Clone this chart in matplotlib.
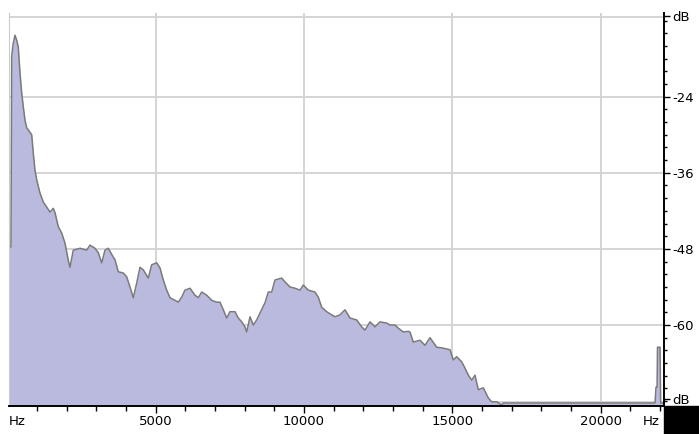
import matplotlib.pyplot as plt
from matplotlib.patches import Rectangle
from matplotlib.ticker import MultipleLocator

# spectrum (Hz, dB)
freq_hz = [60, 120, 145, 189, 256, 313, 367, 425, 482, 536, 593, 651, 762, 819, 873, 930,
           988, 1099, 1210, 1325, 1436, 1547, 1605, 1716, 1830, 1942, 2053, 2110, 2221,
           2447, 2673, 2784, 2953, 3064, 3179, 3290, 3401, 3570, 3627, 3738, 3907, 4021,
           4133, 4244, 4358, 4470, 4581, 4750, 4864, 5033, 5144, 5255, 5370, 5481, 5650,
           5761, 5876, 5987, 6155, 6324, 6435, 6550, 6718, 6887, 7055, 7166, 7278, 7392,
           7503, 7672, 7783, 7898, 8009, 8066, 8178, 8289, 8403, 8515, 8683, 8794, 8909,
           9020, 9246, 9357, 9526, 9694, 9863, 9974, 10143, 10368, 10480, 10594, 10763,
           10931, 11043, 11211, 11380, 11548, 11774, 11943, 12054, 12223, 12391, 12560,
           12786, 12897, 13066, 13177, 13345, 13514, 13571, 13682, 13908, 14077, 14245,
           14471, 14640, 14920, 15031, 15145, 15314, 15425, 15536, 15651, 15762, 15873,
           16042, 16210, 16325, 16493, 16662, 16716, 21830, 21864, 21900, 21914, 21999,
           22020, 22133]
level_db = [-47.7, -47.7, -17.7, -15.8, -14.3, -15.1, -16.2, -20.3, -23.4, -25.6, -27.7, -28.9,
            -29.6, -30.0, -32.9, -35.6, -37.1, -39.2, -40.6, -41.4, -42.2, -41.6, -42.3,
            -44.5, -45.5, -47.1, -49.8, -50.9, -48.2, -47.9, -48.2, -47.4, -47.9, -48.6,
            -50.2, -48.2, -47.9, -49.3, -49.7, -51.6, -51.8, -52.4, -54.0, -55.7, -53.4,
            -50.9, -51.3, -52.6, -50.5, -50.2, -51.0, -52.9, -54.5, -55.7, -56.1, -56.4,
            -55.6, -54.5, -54.2, -55.3, -55.7, -54.8, -55.3, -56.1, -56.4, -56.4, -57.6,
            -58.9, -57.9, -57.9, -58.9, -59.5, -60.3, -61.1, -58.7, -60.0, -59.2, -58.1,
            -56.5, -54.8, -54.8, -52.9, -52.6, -53.2, -54.0, -54.2, -54.5, -53.7, -54.5,
            -54.8, -55.6, -57.2, -57.9, -58.4, -58.7, -58.4, -57.6, -58.9, -59.2, -60.3,
            -60.8, -59.5, -60.3, -59.5, -59.7, -60.0, -60.0, -60.5, -61.1, -61.0, -61.1,
            -62.7, -62.4, -63.2, -62.0, -63.5, -63.6, -63.9, -65.5, -65.0, -65.8, -66.8,
            -67.9, -68.7, -67.9, -70.2, -69.9, -71.5, -72.1, -72.1, -72.6, -72.3, -72.3,
            -69.8, -69.8, -63.5, -63.5, -72.3, -72.3]

grid_hz = [5000, 10000, 15000, 20000]
x_labels = ['5000', '10000', '15000', '20000']
grid_db = [-24, -36, -48, -60]
y_labels = ['-24', '-36', '-48', '-60']
edge_db = [-11.3, -71.6]

fig = plt.figure(figsize=(6.99, 4.34), dpi=100)
ax = fig.add_axes([9 / 699, 28 / 434, 655 / 699, 393 / 434])

for f in grid_hz:
    ax.axvline(f, color='#d4d4d4', lw=1.4, zorder=0)
for d in grid_db + [-11.4, -72.2]:
    ax.axhline(d, color='#d4d4d4', lw=1.4, zorder=0)

ax.fill_between(freq_hz, level_db, -80, color='#babade', lw=0, zorder=1)
ax.plot(freq_hz, level_db, color='#7a7a7a', lw=1.1, zorder=2)

ax.set_xlim(54, 22133)
ax.set_ylim(-72.77, -10.8)

ax.spines['top'].set_visible(False)
ax.spines['left'].set_color('#cccccc')
ax.spines['bottom'].set_color('black')
ax.spines['right'].set_color('black')
ax.spines['bottom'].set_linewidth(1.4)
ax.spines['right'].set_linewidth(1.4)

ax.set_xticks(grid_hz)
ax.set_xticklabels(x_labels)
ax.xaxis.set_minor_locator(MultipleLocator(1000))
ax.tick_params(axis='x', which='major', length=5, width=1, pad=1.5, labelsize=9.5, direction='out')
ax.tick_params(axis='x', which='minor', length=3.5, width=1, direction='out')

ax.yaxis.tick_right()
ax.set_yticks(grid_db + edge_db)
ax.set_yticklabels(y_labels + ['dB', 'dB'])
ax.yaxis.set_minor_locator(MultipleLocator(2))
ax.tick_params(axis='y', which='major', length=4, width=1, pad=2, labelsize=9.5, direction='out')
ax.tick_params(axis='y', which='minor', length=2, width=1, direction='out')

tr = ax.get_xaxis_transform()
ax.text(54, -0.022, 'Hz', transform=tr, ha='left', va='top', fontsize=9.5)
ax.text(21700, -0.022, 'Hz', transform=tr, ha='center', va='top', fontsize=9.5)

fig.patches.append(Rectangle((664 / 699, 0), 35 / 699, 28 / 434, transform=fig.transFigure,
                             color='black', zorder=5))

fig.savefig('out.png', dpi=100)
